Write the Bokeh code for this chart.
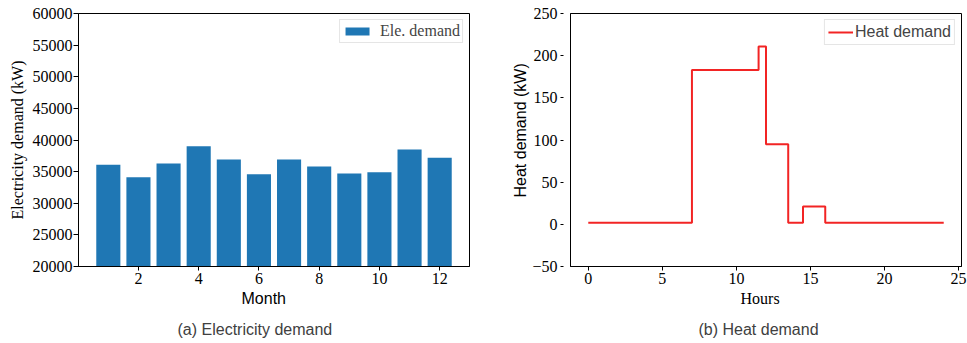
from bokeh.plotting import figure
from bokeh.layouts import row
from bokeh.models import Range1d, FixedTicker, Legend, LegendItem, Title
from bokeh.embed import file_html
from bokeh.resources import INLINE

# ---- data ----
months = [1, 2, 3, 4, 5, 6, 7, 8, 9, 10, 11, 12]
ele_demand = [36100, 34100, 36300, 39000, 36900, 34600, 36900, 35800, 34700, 34900, 38500, 37200]
month_ticks = [2, 4, 6, 8, 10, 12]
ele_ticks = [20000, 25000, 30000, 35000, 40000, 45000, 50000, 55000, 60000]

hours = [0, 7, 11.5, 12, 13.5, 14.5, 16, 24]
heat_demand = [2, 183, 211, 95, 2, 21, 2, 2]
hour_ticks = [0, 5, 10, 15, 20, 25]
heat_ticks = [-50, 0, 50, 100, 150, 200, 250]

SERIF = "Liberation Serif"
SANS = "Liberation Sans"


def style_axis(ax, ticks, label, label_font, tout, tin, standoff, label_standoff):
    ax.ticker = FixedTicker(ticks=ticks)
    ax.major_label_text_font = SERIF
    ax.major_label_text_font_size = "16px"
    ax.major_label_text_color = "black"
    ax.minor_tick_line_color = None
    ax.axis_line_color = "black"
    ax.axis_line_width = 1
    ax.major_tick_line_color = "black"
    ax.major_tick_out = tout
    ax.major_tick_in = tin
    ax.major_label_standoff = standoff
    if label:
        ax.axis_label = label
        ax.axis_label_text_font = label_font
        ax.axis_label_text_font_size = "16px"
        ax.axis_label_text_font_style = "normal"
        ax.axis_label_text_color = "black"
        ax.axis_label_standoff = label_standoff


def base_fig(x_range, y_range, left, right):
    p = figure(frame_width=391, frame_height=253, x_range=x_range, y_range=y_range,
               output_backend="svg", toolbar_location=None,
               min_border_left=left, min_border_right=right,
               min_border_top=13, min_border_bottom=77)
    p.xgrid.visible = False
    p.ygrid.visible = False
    p.outline_line_color = "black"
    p.outline_line_alpha = 1
    p.outline_line_width = 1
    p.background_fill_color = "white"
    p.border_fill_color = "white"
    return p


def text_title(text, font, offset, standoff, color="black", align="left"):
    return Title(text=text, align=align, offset=offset, text_font=font,
                 text_font_size="16px", text_font_style="normal",
                 text_color=color, standoff=standoff)


# ---- (a) electricity ----
p1 = base_fig(Range1d(0.01, 12.99), Range1d(20000, 60000), 78, 14)
bars = p1.vbar(x=months, top=ele_demand, bottom=0, width=0.8,
               fill_color="#1f77b4", line_color=None)
style_axis(p1.xaxis[0], month_ticks, None, SANS, 4, 0, 2, 1)
style_axis(p1.yaxis[0], ele_ticks, "Electricity demand (kW)", SERIF, 5, 0, 1, 4)

leg1 = Legend(items=[LegendItem(label="Ele. demand", renderers=[bars])],
              location="top_right", margin=6, padding=2, glyph_width=30,
              glyph_height=10, label_height=16, label_standoff=8,
              label_text_font=SERIF, label_text_font_size="16px",
              label_text_font_style="normal",
              border_line_color="#cccccc", border_line_width=1,
              background_fill_color="white", background_fill_alpha=1)
p1.add_layout(leg1)
p1.add_layout(text_title("Month", SANS, 163, 2), "below")
p1.add_layout(text_title("(a) Electricity demand", SANS, 99, 22, "#404040"), "below")

# ---- (b) heat ----
p2 = base_fig(Range1d(-1.2, 25.2), Range1d(-50, 250), 87, 6)
line = p2.step(x=hours, y=heat_demand, mode="after", line_color="#f22424", line_width=2)
style_axis(p2.xaxis[0], hour_ticks, None, SERIF, 4, 0, 2, 1)
style_axis(p2.yaxis[0], heat_ticks, None, SANS, 10, -7, 3, 5)
p2.yaxis[0].major_label_overrides = {-50: "\u221250"}

leg2 = Legend(items=[LegendItem(label="Heat demand", renderers=[line])],
              location="top_right", margin=6, padding=3, glyph_width=25,
              glyph_height=10, label_height=16, label_standoff=2,
              label_text_font=SANS, label_text_font_size="16px",
              label_text_font_style="normal",
              border_line_color="#cccccc", border_line_width=1,
              background_fill_color="white", background_fill_alpha=1)
p2.add_layout(leg2)
p2.add_layout(text_title("Heat demand (kW)", SANS, 69, 1), "left")
p2.add_layout(text_title("Hours", SERIF, 170, 2), "below")
p2.add_layout(text_title("(b) Heat demand", SANS, 128, 22, "#404040"), "below")

layout = row(p1, p2)
open("out.html", "w").write(file_html(layout, INLINE))
